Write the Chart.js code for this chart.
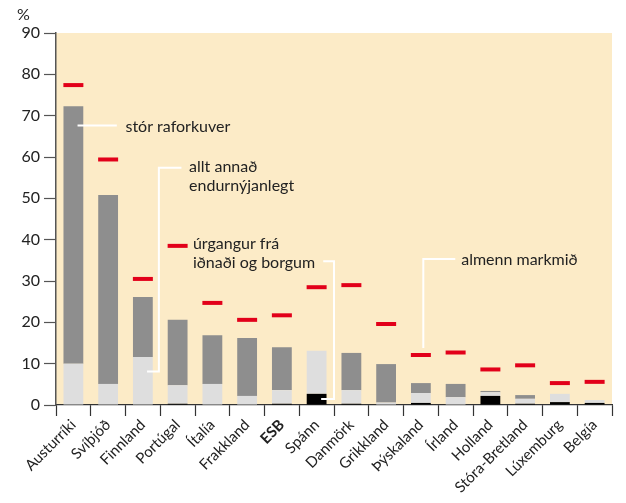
<!DOCTYPE html>
<html>
<head>
<meta charset="utf-8">
<script src="https://cdn.jsdelivr.net/npm/chart.js@4"></script>
<style>
  html, body { margin: 0; padding: 0; background: #fff; }
  #wrap { width: 626px; height: 503px; }
</style>
</head>
<body>
<div id="wrap"><canvas id="myChart" width="626" height="503"></canvas></div>
<script>
// categories and values
const countries = ["Austurríki", "Svíþjóð", "Finnland", "Portúgal", "Ítalía", "Frakkland", "ESB", "Spánn",
  "Danmörk", "Grikkland", "Þýskaland", "Írland", "Holland", "Stóra-Bretland", "Lúxemburg", "Belgía"];
const waste = [0, 0, 0, 0.3, 0, 0, 0.3, 2.7, 0.3, 0, 0.5, 0, 2.2, 0.3, 0.7, 0.5];        // úrgangur frá iðnaði og borgum
const otherRenew = [10, 5.1, 11.6, 4.5, 5.1, 2.2, 3.3, 10.4, 3.3, 0.6, 2.4, 1.9, 0.9, 1.2, 2.0, 0.7]; // allt annað endurnýjanlegt
const largeHydro = [62.3, 45.7, 14.5, 15.8, 11.8, 14.0, 10.4, 0, 9.0, 9.3, 2.4, 3.2, 0.3, 0.9, 0, 0]; // stór raforkuver
const targets = [77.4, 59.4, 30.5, 38.5, 24.7, 20.6, 21.7, 28.5, 29.0, 19.6, 12.1, 12.7, 8.6, 9.6, 5.3, 5.6]; // almenn markmið
const yTicks = [0, 10, 20, 30, 40, 50, 60, 70, 80, 90];

const FONT = "Lato, 'Open Sans', sans-serif";

// annotation lines and labels, in (category index, value) units
const notes = [
  { text: ["stór raforkuver"], at: [1.5, 67.4], line: [[0.12, 67.6], [1.25, 67.6]] },
  { text: ["allt annað", "endurnýjanlegt"], at: [3.33, 57.6], line: [[3.11, 57.4], [2.46, 57.4], [2.46, 8.1], [2.12, 8.1]] },
  { text: ["úrgangur frá", "iðnaði og borgum"], at: [3.44, 39.0], line: [[7.19, 34.8], [7.5, 34.8], [7.5, 1.45], [7.13, 1.45]] },
  { text: ["almenn markmið"], at: [11.16, 35.1], line: [[10.99, 35.3], [10.07, 35.3], [10.07, 13.8]] }
];

const bgPlugin = {
  id: "bg",
  beforeDraw(chart) {
    const a = chart.chartArea, ctx = chart.ctx;
    ctx.save();
    ctx.fillStyle = "#fcebc7";
    ctx.fillRect(a.left, a.top, a.right - a.left, a.bottom - a.top);
    ctx.restore();
  }
};

const notePlugin = {
  id: "notes",
  afterDatasetsDraw(chart) {
    const ctx = chart.ctx, xs = chart.scales.x, ys = chart.scales.y;
    const step = xs.getPixelForValue(1) - xs.getPixelForValue(0);
    const px = i => xs.getPixelForValue(0) + i * step;
    ctx.save();
    ctx.strokeStyle = "#ffffff";
    ctx.lineWidth = 2;
    notes.forEach(n => {
      ctx.beginPath();
      n.line.forEach((p, k) => {
        const x = px(p[0]), y = ys.getPixelForValue(p[1]);
        if (k === 0) ctx.moveTo(x, y); else ctx.lineTo(x, y);
      });
      ctx.stroke();
    });
    ctx.fillStyle = "#222";
    ctx.font = "16px " + FONT;
    ctx.textBaseline = "middle";
    ctx.textAlign = "left";
    notes.forEach(n => {
      const x = px(n.at[0]), y = ys.getPixelForValue(n.at[1]);
      n.text.forEach((t, k) => ctx.fillText(t, x, y + k * 19));
    });
    // unit label
    ctx.font = "16px " + FONT;
    ctx.fillText("%", 17, 15);
    ctx.restore();
  }
};

new Chart(document.getElementById("myChart").getContext("2d"), {
  type: "bar",
  data: {
    labels: countries,
    datasets: [
      { label: "úrgangur frá iðnaði og borgum", data: waste, backgroundColor: "#000000", stack: "s" },
      { label: "allt annað endurnýjanlegt", data: otherRenew, backgroundColor: "#dedede", stack: "s" },
      { label: "stór raforkuver", data: largeHydro, backgroundColor: "#8e8e8e", stack: "s" },
      {
        type: "line", label: "almenn markmið", data: targets, stack: "t",
        showLine: false, pointStyle: "line", pointRadius: 10, pointHoverRadius: 10,
        borderColor: "#e2001a", pointBorderWidth: 4, borderWidth: 4
      }
    ]
  },
  options: {
    responsive: false,
    animation: false,
    layout: { padding: { top: 33, right: 1, left: 0, bottom: 0 } },
    datasets: { bar: { barPercentage: 0.57, categoryPercentage: 1 } },
    plugins: { legend: { display: false }, tooltip: { enabled: false } },
    scales: {
      x: {
        stacked: true,
        afterFit(scale) { scale.height = 98; },
        grid: { offset: true, drawOnChartArea: false, tickLength: 11, color: "#333", tickWidth: 1.2 },
        border: { color: "#333", width: 1.2 },
        ticks: {
          maxRotation: 45, minRotation: 45, color: "#222", padding: 0, autoSkip: false,
          font: c => ({ family: FONT, size: 15, weight: countries[c.index] === "ESB" ? "bold" : "normal" })
        }
      },
      y: {
        stacked: true, min: 0, max: 90,
        afterFit(scale) { scale.width = 56; },
        afterBuildTicks(scale) { scale.ticks = yTicks.map(v => ({ value: v })); },
        grid: { drawOnChartArea: false, tickLength: 12, color: "#555", tickWidth: 1.2 },
        border: { color: "#555", width: 1.5 },
        ticks: { color: "#222", padding: 4, font: { family: FONT, size: 16 } }
      }
    }
  },
  plugins: [bgPlugin, notePlugin]
});
</script>
</body>
</html>
